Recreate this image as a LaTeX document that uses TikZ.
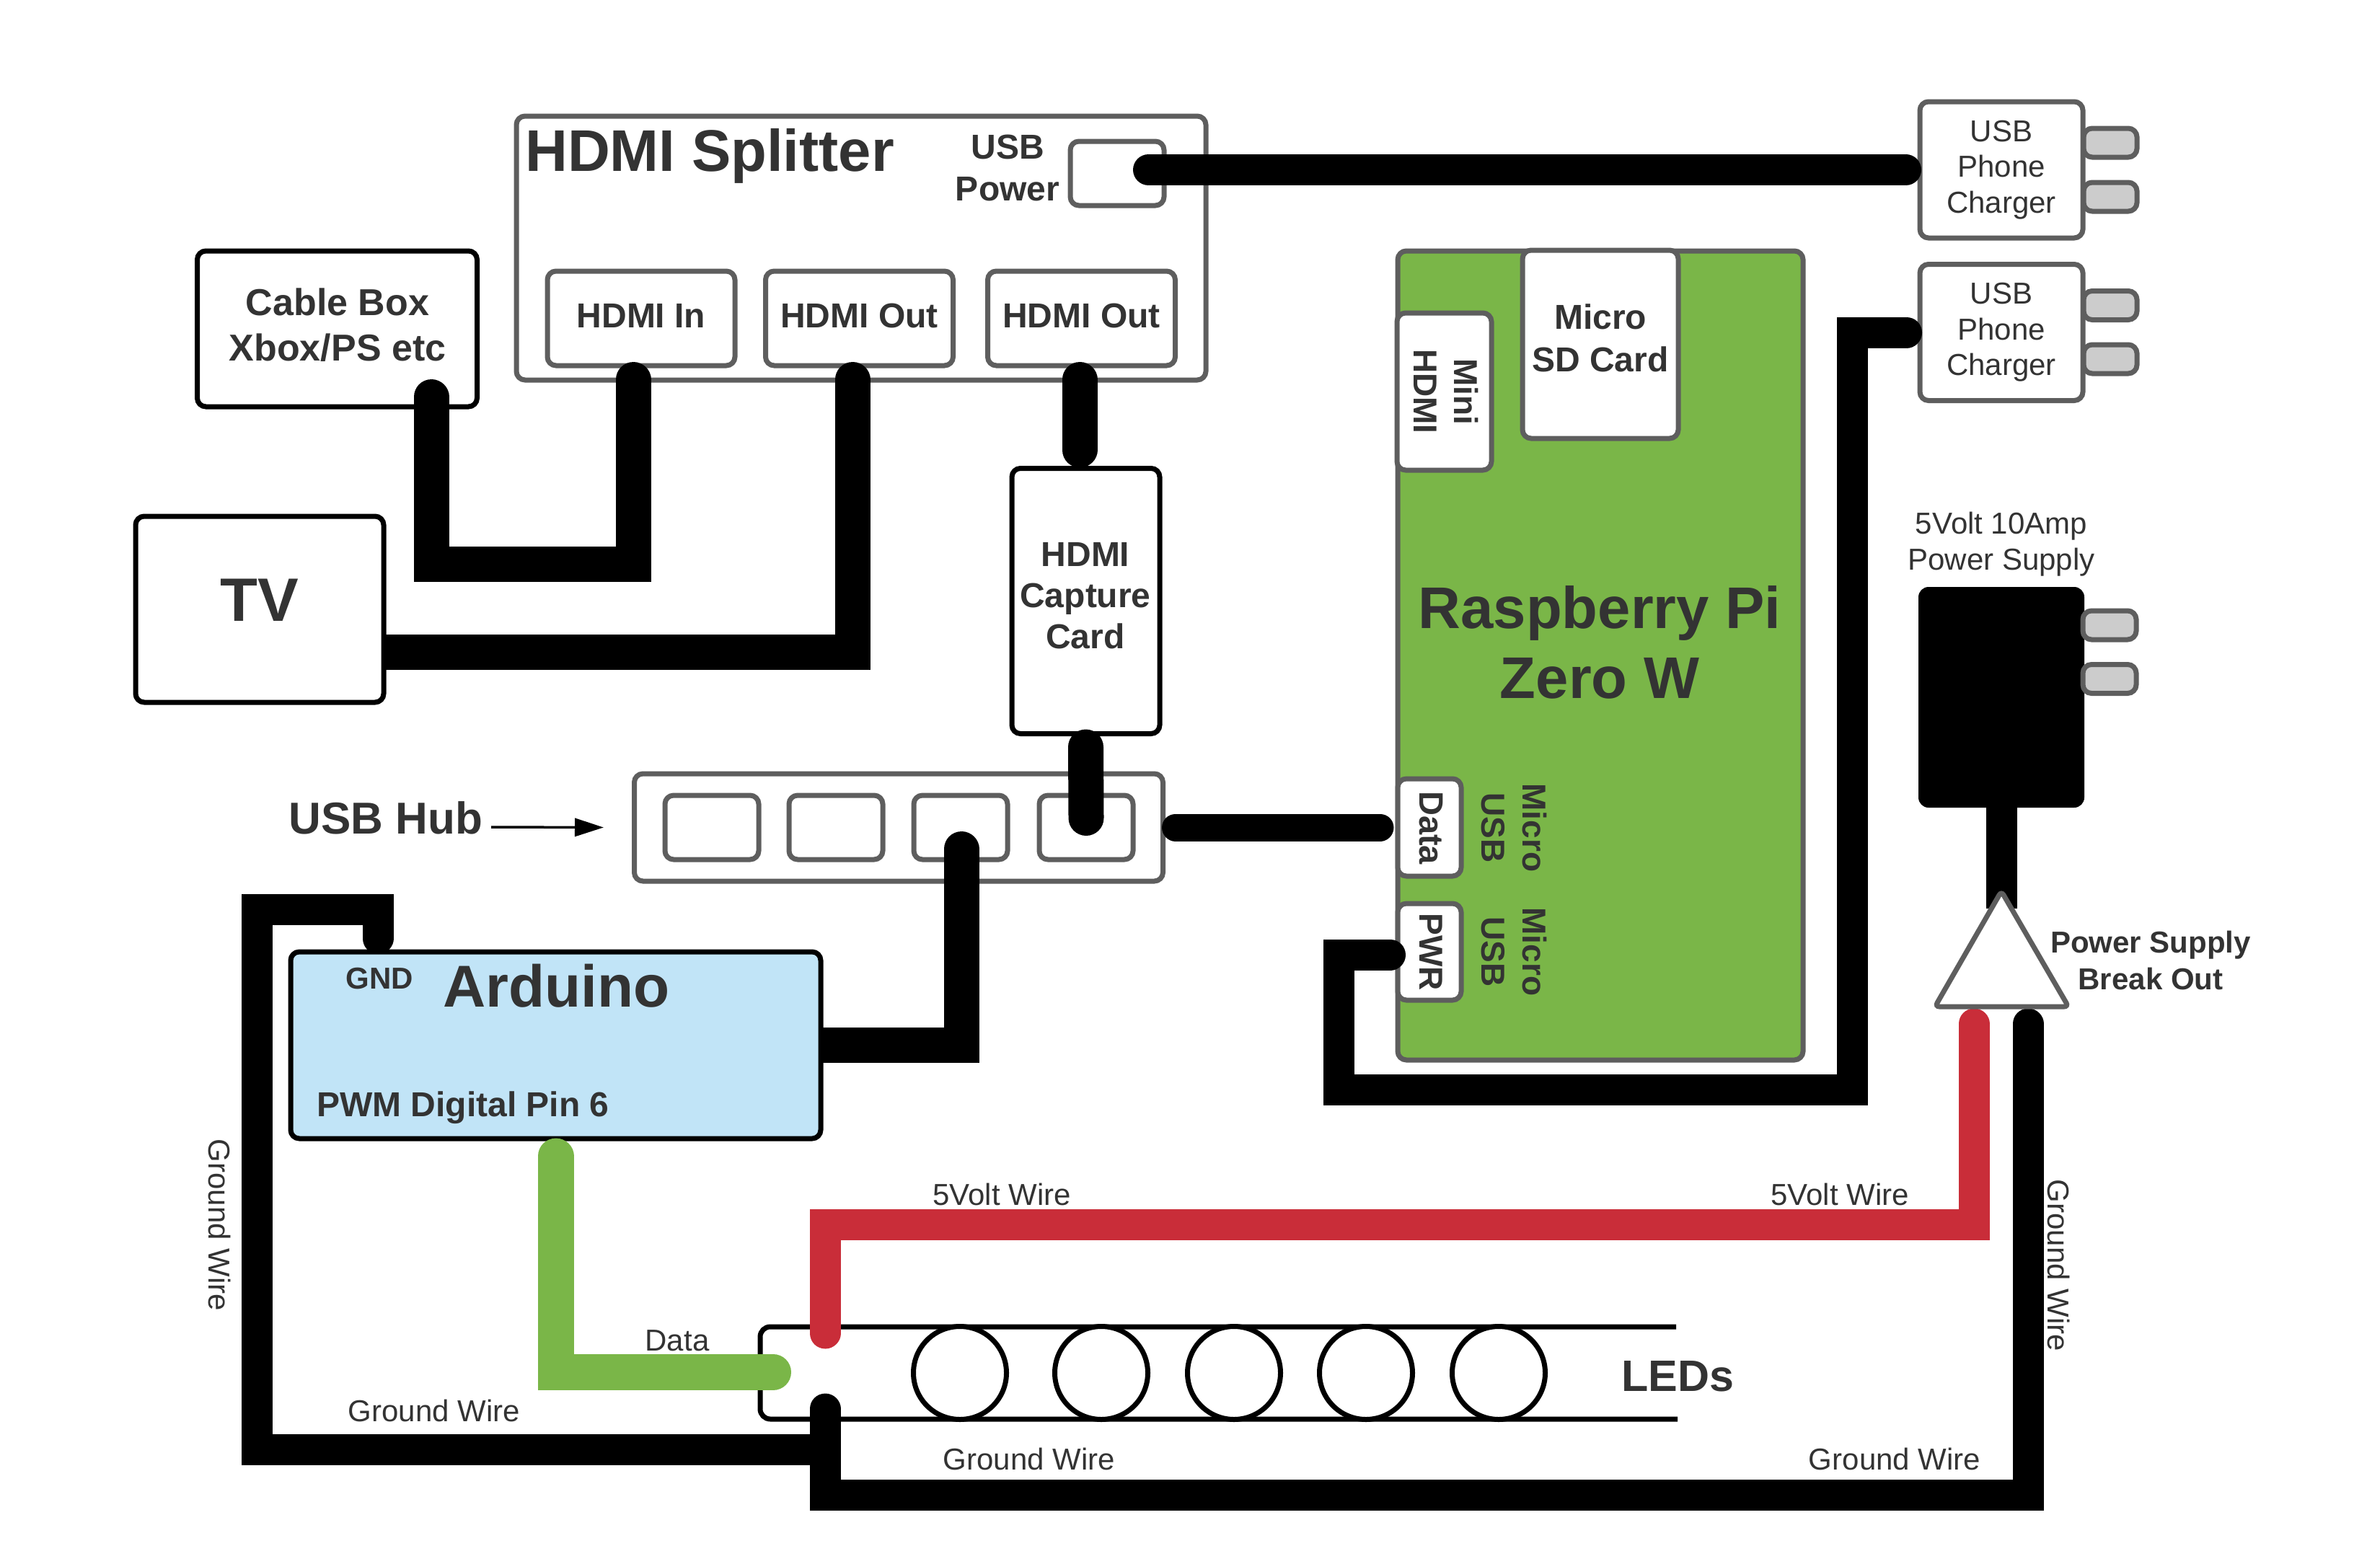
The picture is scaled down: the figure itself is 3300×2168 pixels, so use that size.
\documentclass[tikz,border=0pt]{standalone}
\usepackage{fontspec}
\setmainfont{Liberation Sans}
\usetikzlibrary{arrows.meta}
\pgfdeclarelayer{front}
\pgfsetlayers{main,front}
\definecolor{edgegrey}{HTML}{5E5E5E}
\definecolor{labelgrey}{HTML}{333333}
\definecolor{prongfill}{HTML}{CCCCCC}
\definecolor{pigreen}{HTML}{7AB648}
\definecolor{unoblue}{HTML}{C1E4F7}
\definecolor{wirered}{HTML}{C92D39}
\tikzset{
  boldtext/.style 2 args={font=\fontsize{#1}{#2}\selectfont\bfseries, text=labelgrey, align=center, inner sep=0pt},
  plaintext/.style 2 args={font=\fontsize{#1}{#2}\selectfont, text=labelgrey, align=center, inner sep=0pt},
  greybox/.style={draw=edgegrey, fill=white, line width=7pt, rounded corners=12pt, inner sep=0pt},
  blackbox/.style={draw=black, fill=white, line width=7pt, rounded corners=12pt, inner sep=0pt},
  prong/.style={greybox, fill=prongfill, minimum width=74pt, minimum height=40pt},
  wire/.style={draw=black, line width=43pt, line cap=round, line join=miter},
  hdmiwire/.style={wire, line width=49pt},
}

\begin{document}
\begin{tikzpicture}[x=1pt, y=-1pt]
  \useasboundingbox (0,0) rectangle (3300,2168);

  % splitter
  \node[greybox, minimum width=956pt, minimum height=366pt] (splitter) at (1194,344) {};
  \node[boldtext={81.5}{96}, anchor=base west] (splittertitle) at (728,237) {HDMI Splitter};
  \node[boldtext={48}{58}] (usblabel) at (1397,233) {USB\\Power};
  \node[greybox, minimum width=130pt, minimum height=89pt] (usbpower) at (1549,240.5) {};
  \foreach \x/\name/\txt in {889/hdmiin/HDMI In, 1191.5/hdmiouta/HDMI Out, 1499.5/hdmioutb/HDMI Out} {
    \node[greybox, boldtext={48}{58}, minimum width=260pt, minimum height=131pt, text height=34pt, text depth=8pt] (\name) at (\x,441.5) {\txt};
  }

  % sources and sinks
  \node[blackbox, minimum width=388pt, minimum height=216pt] (cablebox) at (467.5,456) {};
  \node[boldtext={52}{63}] (cablelabel) at (468,451) {Cable Box\\Xbox/PS etc};
  \node[blackbox, minimum width=205pt, minimum height=368pt] (capture) at (1505.5,833.5) {};
  \node[boldtext={48}{57}] (capturelabel) at (1505,826) {HDMI\\Capture\\Card};

  % chargers
  \foreach \y/\name in {235.5/chargera, 461/chargerb} {
    \node[greybox, minimum width=226pt, minimum height=189pt] (\name) at (2775,\y) {};
    \node[plaintext={42}{49.5}] (\name label) at (2775,\y) {USB\\Phone\\Charger};
  }
  \foreach \y in {198, 273, 423.5, 498} {
    \node[prong] (prong\y) at (2926,\y) {};
  }

  % raspberry pi
  \node[greybox, fill=pigreen, minimum width=562pt, minimum height=1122pt] (pi) at (2219,909) {};
  \node[boldtext={81.5}{97}] (pilabel) at (2218,891) {Raspberry Pi\\Zero W};
  \node[greybox, minimum width=216pt, minimum height=261pt] (sdcard) at (2219,477.5) {};
  \node[boldtext={48}{59}] (sdlabel) at (2219,469) {Micro\\SD Card};
  \node[greybox, minimum width=131pt, minimum height=218pt] (minihdmi) at (2002.5,543) {};
  \node[boldtext={46}{56}, rotate=-90] (minilabel) at (2005,543) {Mini\\HDMI};
  \node[greybox, minimum width=88pt, minimum height=135pt] (dataport) at (1982,1147.5) {};
  \node[boldtext={47}{57}, rotate=-90] (datalabel) at (1984,1148) {Data};
  \node[greybox, minimum width=88pt, minimum height=134pt] (pwrport) at (1982,1320) {};
  \node[boldtext={46}{57}, rotate=-90] (pwrlabel) at (1984,1320) {PWR};
  \foreach \y/\name in {1148/dataside, 1320/pwrside} {
    \node[boldtext={46}{57}, rotate=-90] (\name) at (2099,\y) {Micro\\USB};
  }

  % usb hub
  \node[greybox, minimum width=733pt, minimum height=149pt] (hub) at (1246,1147.5) {};
  \foreach \x [count=\n] in {987, 1159, 1332, 1506} {
    \node[greybox, minimum width=130pt, minimum height=89pt] (hubport\n) at (\x,1147.5) {};
  }
  \node[boldtext={62}{74}, anchor=base] (hublabel) at (535,1156) {USB Hub};
  \coordinate (hubarrow) at (681,1147);
  \draw[line width=3.5pt, -{Triangle[length=40pt,width=25pt]}] (hubarrow) -- ([xshift=-39pt]hub.west);

  % led strip
  \coordinate (stripnw) at (1054,1840);
  \coordinate (stripsw) at (1054,1968);
  \draw[line width=7pt, rounded corners=14pt] (2324,1840) -- (stripnw) -- (stripsw) -- (2326,1968);
  \foreach \x [count=\n] in {1331, 1527, 1711, 1894, 2078} {
    \node[draw, fill=white, circle, line width=7pt, minimum size=129pt, inner sep=0pt] (led\n) at (\x,1904) {};
  }
  \node[boldtext={61}{70}, anchor=base] (ledlabel) at (2326,1929) {LEDs};

  % parts that sit above their cables
  \begin{pgfonlayer}{front}
    \node[blackbox, minimum width=344pt, minimum height=258pt] (tv) at (360,845) {};
    \node[boldtext={85}{100}, anchor=base] (tvlabel) at (360,861) {TV};
    \node[blackbox, fill=unoblue, minimum width=735pt, minimum height=259pt] (arduino) at (770.5,1449.5) {};
    \node[boldtext={42}{48}, anchor=base] (gndlabel) at (526,1371) {GND};
    \node[boldtext={82}{96}, anchor=base] (arduinolabel) at (771.5,1396) {Arduino};
    \node[boldtext={48}{58}, anchor=base west] (pinlabel) at (439,1548) {PWM Digital Pin 6};
    \node[fill=black, rounded corners=14pt, minimum width=230pt, minimum height=306pt, inner sep=0pt] (supply) at (2775,967) {};
    \foreach \y in {867, 941.5} {
      \node[prong] (supplyprong\y) at (2925,\y) {};
    }
    \coordinate (breaktip) at (2775,1236);
    \draw[draw=edgegrey, fill=white, line width=7pt, rounded corners=6pt] (breaktip) -- (2868,1396) -- (2683,1396) -- cycle;
    % wires over the arduino
    \draw[hdmiwire, line width=50pt, draw=pigreen] ([yshift=-21pt]arduino.south) |- ([shift={(18,63)}]stripnw);
    \draw[wire] ([shift={(-246.5,-15)}]arduino.north) |- ++(-168,-40) |- ++(788,749);
  \end{pgfonlayer}

  % hdmi cables
  \draw[hdmiwire] ([shift={(130.5,-17)}]cablebox.south) -- ++(0,232) -| ([shift={(-11,16)}]hdmiin.south);
  \draw[hdmiwire] ([shift={(0,59)}]tv.east) -| ([shift={(-9.5,16)}]hdmiouta.south);
  \draw[hdmiwire] ([shift={(-2.5,16)}]hdmioutb.south) -- ([shift={(-8.5,-22)}]capture.north);
  \draw[hdmiwire] ([yshift=-15pt]capture.south) -- ([yshift=13pt]hubport4.center);

  % usb cables
  \draw[wire] ([xshift=-25pt,yshift=5pt]usbpower.east) -- ([xshift=-16pt]chargera.west);
  \draw[wire] ([shift={(-7,4)}]pwrport.west) -| ++(-71,187) -| ++(712,-1050) -- ([xshift=-15pt]chargerb.west);
  \draw[hdmiwire] (arduino.east) -| ([shift={(1,30)}]hubport3.center);
  \draw[wire, line width=38pt] ([xshift=14pt]hub.east) -- ([xshift=-21pt]dataport.west);

  % power
  \draw[wire, line cap=butt] (supply.south) -- ([yshift=-24pt]breaktip);
  \draw[wire, draw=wirered] ([shift={(90,9)}]stripnw) |- ++(1593,-151) -- ++(0,-278);
  \draw[wire] ([shift={(90,-14)}]stripsw) |- ++(1668,119) -- ++(0,-653);

  % wire labels
  \node[plaintext={42}{50}, anchor=base] (datawire) at (939,1873) {Data};
  \node[plaintext={42}{50}, anchor=base] (voltleft) at (1389,1671) {5Volt Wire};
  \node[plaintext={42}{50}, anchor=base] (voltright) at (2551,1671) {5Volt Wire};
  \node[plaintext={42}{50}, anchor=base] (gndleft) at (602,1971) {Ground Wire};
  \node[plaintext={42}{50}, anchor=base] (gndmid) at (1427,2038) {Ground Wire};
  \node[plaintext={42}{50}, anchor=base] (gndright) at (2627,2038) {Ground Wire};
  \node[plaintext={42}{50}, rotate=-90] (gndvleft) at (305,1699) {Ground Wire};
  \node[plaintext={42}{50}, rotate=-90] (gndvright) at (2854,1755) {Ground Wire};
  \node[plaintext={42}{50}] (supplylabel) at (2775,755) {5Volt 10Amp\\Power Supply};
  \node[boldtext={42}{51}] (breaklabel) at (2982,1332) {Power Supply\\Break Out};
\end{tikzpicture}
\end{document}
